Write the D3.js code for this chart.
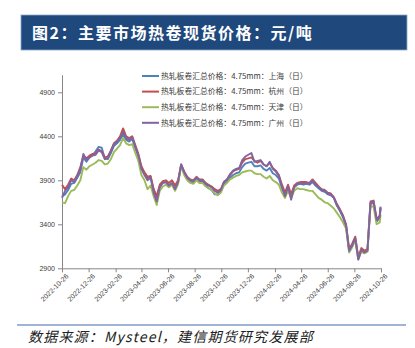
<!DOCTYPE html>
<html>
<head>
<meta charset="utf-8">
<script src="https://cdn.jsdelivr.net/npm/d3@7"></script>
<style>
  html, body { margin: 0; padding: 0; background: #fff; }
  svg { display: block; }
</style>
</head>
<body>
<svg id="chart" width="415" height="348"></svg>
<script>
// Weekly hot-rolled coil spot prices (4.75mm), yuan/ton
const startDate = "2022-10-26";
const lastDate = "2024-10-25";

const seriesNames = [
  "热轧板卷汇总价格：4.75mm：上海（日）",
  "热轧板卷汇总价格：4.75mm：杭州（日）",
  "热轧板卷汇总价格：4.75mm：天津（日）",
  "热轧板卷汇总价格：4.75mm：广州（日）"
];
const seriesColors = ["#4F81BD", "#C0504D", "#9BBB59", "#8064A2"];

const shanghai = [
  3720,3740,3790,3860,3870,3930,3990,4160,4110,4160,
  4190,4230,4280,4270,4150,4140,4210,4290,4320,4360,
  4420,4360,4340,4370,4270,4180,4040,3970,3920,3940,
  3790,3710,3830,3870,3880,3840,3860,3790,3870,4070,
  3980,3920,3890,3870,3910,3880,3880,3840,3810,3790,
  3740,3740,3770,3860,3890,3930,3960,3980,3990,4050,
  4090,4100,4110,4060,4060,4070,4030,4010,4040,3980,
  3960,3920,3810,3730,3810,3720,3820,3850,3860,3850,
  3860,3850,3880,3840,3810,3780,3770,3740,3730,3700,
  3610,3550,3480,3380,3090,3150,3230,3010,3100,3080,
  3100,3640,3640,3430,3470,3580
];
const hangzhou = [
  3850,3800,3850,3920,3900,3960,4050,4180,4150,4180,
  4200,4200,4250,4230,4160,4170,4240,4320,4350,4400,
  4490,4400,4380,4400,4300,4200,4060,3990,3940,3950,
  3800,3720,3850,3890,3900,3870,3900,3840,3900,4080,
  4000,3940,3910,3900,3940,3910,3910,3870,3850,3830,
  3800,3780,3800,3880,3910,3960,4000,4020,4030,4100,
  4140,4150,4160,4120,4100,4120,4080,4060,4100,4040,
  4010,3960,3850,3760,3850,3740,3840,3870,3880,3880,
  3880,3870,3910,3870,3830,3800,3790,3760,3750,3710,
  3630,3570,3500,3400,3120,3180,3260,3030,3130,3100,
  3120,3660,3670,3460,3500,3590
];
const tianjin = [
  3650,3640,3720,3780,3790,3840,3900,4050,4020,4060,
  4080,4100,4130,4120,4080,4090,4140,4220,4260,4300,
  4380,4320,4300,4310,4210,4120,3960,3900,3800,3840,
  3720,3620,3780,3830,3850,3820,3850,3780,3860,4060,
  3960,3900,3870,3860,3900,3870,3870,3830,3810,3790,
  3750,3730,3760,3840,3870,3910,3930,3950,3960,3990,
  4000,4010,4010,3980,3970,3970,3940,3920,3950,3900,
  3880,3850,3760,3700,3780,3700,3780,3810,3800,3800,
  3790,3780,3780,3740,3700,3680,3650,3640,3610,3580,
  3530,3480,3420,3350,3080,3140,3220,3000,3090,3070,
  3090,3610,3600,3400,3420,3510
];
const guangzhou = [
  3700,3780,3820,3900,3880,3950,4020,4200,4130,4160,
  4180,4190,4240,4220,4140,4150,4230,4310,4340,4380,
  4450,4380,4360,4390,4280,4180,4030,3960,3900,3930,
  3760,3660,3820,3870,3880,3840,3870,3800,3880,4080,
  3990,3930,3900,3890,3930,3900,3900,3860,3840,3820,
  3780,3760,3790,3880,3910,3970,4010,4030,4040,4130,
  4170,4190,4210,4110,4120,4130,4080,4060,4110,4030,
  4000,3950,3830,3720,3830,3680,3820,3860,3870,3860,
  3870,3860,3900,3850,3820,3790,3780,3750,3740,3700,
  3620,3560,3490,3380,3100,3160,3240,3000,3110,3080,
  3100,3640,3660,3450,3480,3600
];

const yTicks = [2900, 3400, 3900, 4400, 4900];
const xTickLabels = [
  "2022-10-26","2022-12-26","2023-02-26","2023-04-26","2023-06-26",
  "2023-08-26","2023-10-26","2023-12-26","2024-02-26","2024-04-26",
  "2024-06-26","2024-08-26","2024-10-26"
];

const parse = d3.timeParse("%Y-%m-%d");
const allSeries = [shanghai, hangzhou, tianjin, guangzhou];
const nPoints = d3.min(allSeries, s => s.length);

// weekly observation dates, last one is the final trading day shown
const dates = d3.range(nPoints).map(i =>
  i === nPoints - 1 ? parse(lastDate) : d3.timeDay.offset(parse(startDate), 7 * i));

const svg = d3.select("#chart");

// title banner
svg.append("rect")
  .attr("x", 21).attr("y", 15).attr("width", 386).attr("height", 35)
  .attr("fill", "#1F497D").attr("stroke", "#8FA8C8").attr("stroke-width", 0.8);
svg.append("text")
  .attr("x", 32).attr("y", 39)
  .attr("fill", "#fff")
  .attr("font-family", "'Noto Sans CJK SC', sans-serif")
  .attr("font-weight", "bold")
  .attr("font-size", 16)
  .attr("letter-spacing", 1.5)
  .text("图2：主要市场热卷现货价格：元/吨");

// scales
const x = d3.scaleTime()
  .domain([parse(xTickLabels[0]), parse(xTickLabels[xTickLabels.length - 1])])
  .range([62, 381]);
const y = d3.scaleLinear().domain([2900, 5100]).range([268.3, 74.7]);

// axes
const axisColor = "#868686";
const tickTextColor = "#404040";
const tickFont = "'Liberation Sans', Arial, sans-serif";

const yAxis = svg.append("g")
  .attr("transform", "translate(62,0)")
  .call(d3.axisLeft(y).tickValues(yTicks).tickSize(4).tickSizeOuter(0).tickPadding(3)
    .tickFormat(d3.format("d")));
const xAxis = svg.append("g")
  .attr("transform", "translate(0,268.3)")
  .call(d3.axisBottom(x).tickValues(xTickLabels.map(parse)).tickSize(4).tickSizeOuter(0)
    .tickFormat(d3.timeFormat("%Y-%m-%d")));

[yAxis, xAxis].forEach(g => {
  g.select(".domain").attr("stroke", axisColor);
  g.selectAll(".tick line").attr("stroke", axisColor);
  g.selectAll(".tick text")
    .attr("fill", tickTextColor)
    .attr("font-family", tickFont)
    .attr("font-size", 7);
});
xAxis.selectAll(".tick text")
  .attr("text-anchor", "end")
  .attr("transform", "rotate(-45)")
  .attr("dx", "-0.2em")
  .attr("dy", "0.5em");

// lines
const line = d3.line()
  .x((d, i) => x(dates[i]))
  .y(d => y(d));

allSeries.forEach((s, k) => {
  svg.append("path")
    .datum(s.slice(0, nPoints))
    .attr("fill", "none")
    .attr("stroke", seriesColors[k])
    .attr("stroke-width", 1.9)
    .attr("stroke-linejoin", "round")
    .attr("d", line);
});

// legend
const legend = svg.append("g");
seriesNames.forEach((name, k) => {
  const cy = 76 + k * 15.6;
  legend.append("line")
    .attr("x1", 142).attr("x2", 159).attr("y1", cy).attr("y2", cy)
    .attr("stroke", seriesColors[k]).attr("stroke-width", 2);
  legend.append("text")
    .attr("x", 161).attr("y", cy + 2.8)
    .attr("fill", "#404040")
    .attr("font-family", "'Noto Sans CJK SC', sans-serif")
    .attr("font-size", 7.8)
    .text(name);
});

// source note
svg.append("line")
  .attr("x1", 17).attr("x2", 406).attr("y1", 325).attr("y2", 325)
  .attr("stroke", "#7F9CC4").attr("stroke-width", 1.5);
svg.append("text")
  .attr("x", 28).attr("y", 342)
  .attr("fill", "#222")
  .attr("font-family", "'Noto Sans CJK SC', sans-serif")
  .attr("font-style", "italic")
  .attr("font-size", 14)
  .attr("letter-spacing", 1.2)
  .text("数据来源：Mysteel，建信期货研究发展部");
</script>
</body>
</html>
